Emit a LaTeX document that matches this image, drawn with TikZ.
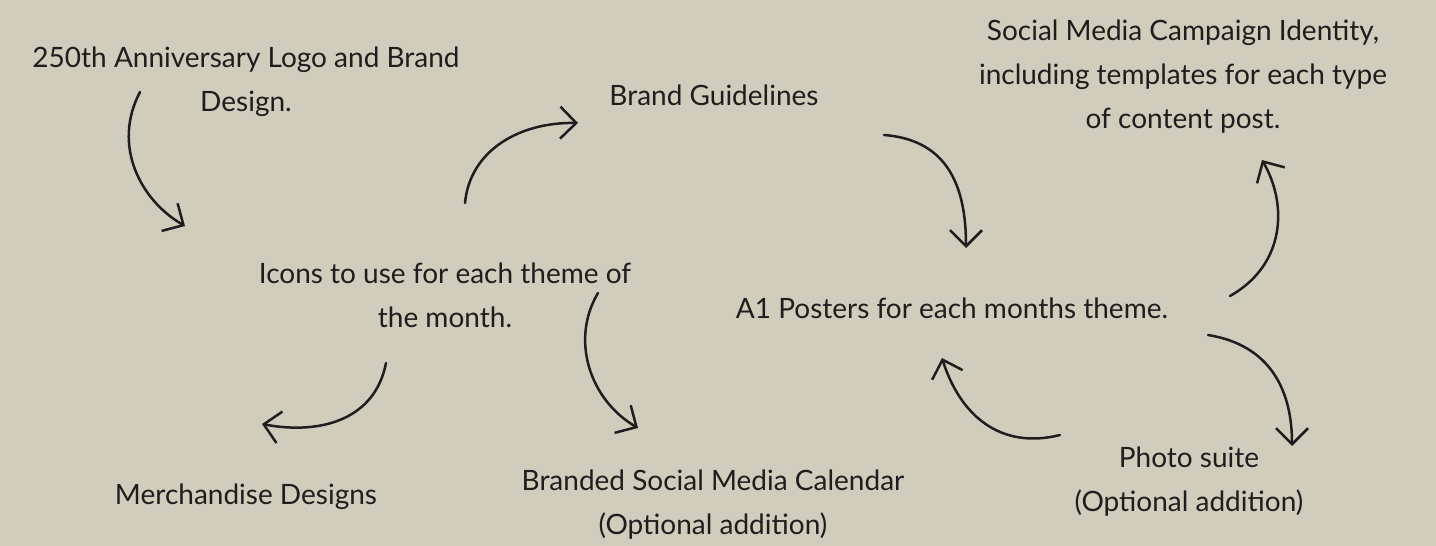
\documentclass[tikz,border=0pt]{standalone}
\usepackage{fontspec}
\setmainfont{Lato}
\usetikzlibrary{arrows.meta}
\definecolor{bg}{HTML}{D0CDBC}
\definecolor{ink}{HTML}{1E1E1E}
\tikzset{
  lbl/.style={text=ink, align=center, font=\fontsize{14pt}{22pt}\selectfont, inner sep=0pt},
  conn/.style={draw=ink, line width=1.25pt, line cap=round,
    -{Straight Barb[length=8pt,width=16pt,line width=1.25pt]}}
}
\begin{document}
\begin{tikzpicture}[x=0.5pt,y=-0.5pt]
\fill[bg] (0,0) rectangle (1436,546);
\useasboundingbox (0,0) rectangle (1436,546);
% labels
\node[lbl] (logo) at (246,82) {250th Anniversary Logo and Brand\\Design.};
\node[lbl] (guide) at (714,95) {Brand Guidelines};
\node[lbl] (social) at (1183,77) {Social Media Campaign Identity,\\including templates for each type\\of content post.};
\node[lbl] (icons) at (445,295) {Icons to use for each theme of\\the month.};
\node[lbl] (posters) at (952,308) {A1 Posters for each months theme.};
\node[lbl] (merch) at (246,497) {Merchandise Designs};
\node[lbl] (calendar) at (713,505) {Branded Social Media Calendar\\(Optional addition)};
\node[lbl] (photo) at (1189,482) {Photo suite\\(Optional addition)};
% connector ends
\coordinate (a1s) at (140,92);   \coordinate (a1e) at (185,226);
\coordinate (a2s) at (465,203);  \coordinate (a2e) at (578,123);
\coordinate (a3s) at (884,135);  \coordinate (a3e) at (966,248);
\coordinate (a4s) at (386,363);  \coordinate (a4e) at (262,424);
\coordinate (a5s) at (598,293);  \coordinate (a5e) at (638,428);
\coordinate (a6s) at (1230,296); \coordinate (a6e) at (1262,160);
\coordinate (a7s) at (1208,335); \coordinate (a7e) at (1292,446);
\coordinate (a8s) at (1060,435); \coordinate (a8e) at (942,358);
% connectors
\draw[conn] (a1s) .. controls (112,145) and (140,200) .. (a1e);
\draw[conn] (a2s) .. controls (470,150) and (520,122) .. (a2e);
\draw[conn] (a3s) .. controls (950,140) and (966,190) .. (a3e);
\draw[conn] (a4s) .. controls (375,420) and (320,435) .. (a4e);
\draw[conn] (a5s) .. controls (570,340) and (590,400) .. (a5e);
\draw[conn] (a6s) .. controls (1285,265) and (1288,205) .. (a6e);
\draw[conn] (a7s) .. controls (1270,345) and (1292,390) .. (a7e);
\draw[conn] (a8s) .. controls (1000,450) and (960,415) .. (a8e);
\end{tikzpicture}
\end{document}
